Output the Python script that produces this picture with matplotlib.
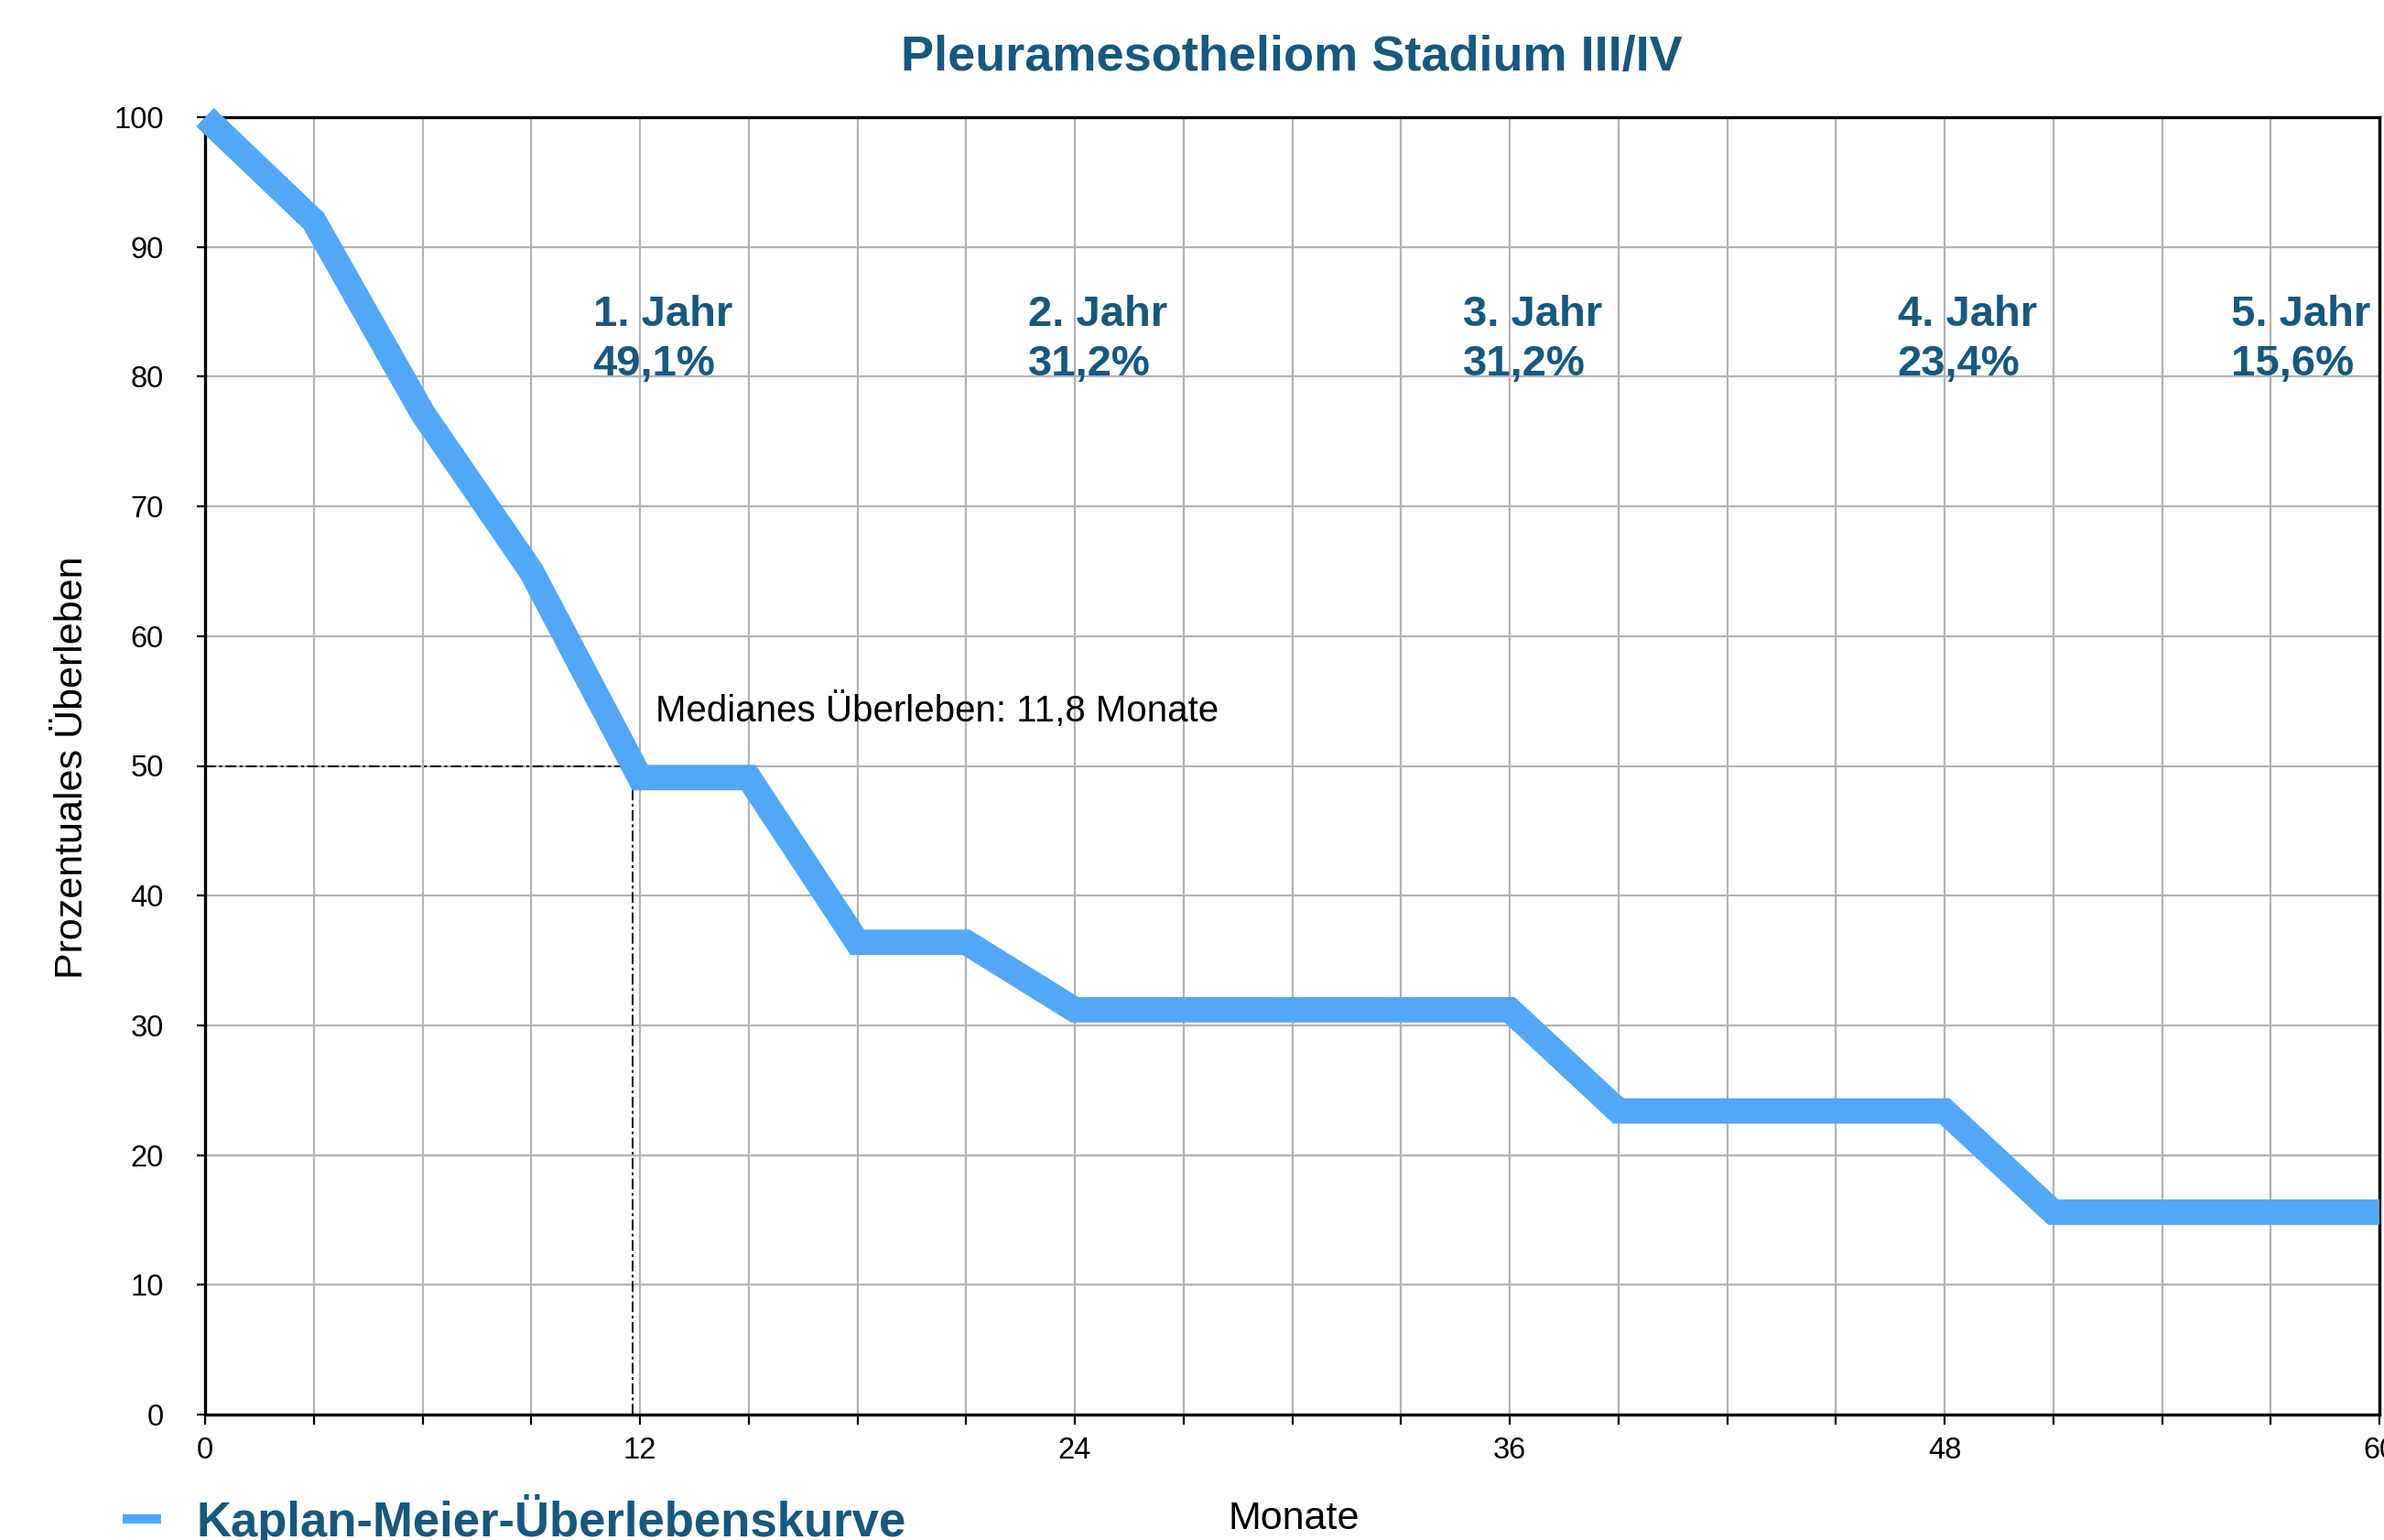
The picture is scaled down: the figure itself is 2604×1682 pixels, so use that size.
import numpy as np
import matplotlib
matplotlib.use("Agg")
import matplotlib.pyplot as plt
from matplotlib.lines import Line2D

plt.rcParams['font.family'] = ['Liberation Sans', 'DejaVu Sans']

# --- data ---
months = [0, 3, 6, 9, 12, 15, 18, 21, 24, 27, 30, 33, 36, 39, 42, 45, 48, 51, 54, 57, 60]
survival = [100, 92.0, 77.2, 65.0, 49.1, 49.1, 36.4, 36.4, 31.2, 31.2, 31.2, 31.2, 31.2,
            23.4, 23.4, 23.4, 23.4, 15.6, 15.6, 15.6, 15.6]
series_label = "Kaplan-Meier-Überlebenskurve"

year_labels = ["1. Jahr", "2. Jahr", "3. Jahr", "4. Jahr", "5. Jahr"]
year_rates = [49.1, 31.2, 31.2, 23.4, 15.6]
year_text_x = [10.7, 22.7, 34.7, 46.7, 55.9]   # left edge of the labels (months)

median_months = 11.8
median_level = 50

title = "Pleuramesotheliom Stadium III/IV"
xlabel = "Monate"
ylabel = "Prozentuales Überleben"

# colours
curve_col = "#52a7f8"
text_col = "#17587f"
grid_col = "#b3b3b3"

W, H = 2604, 1682
fig = plt.figure(figsize=(W / 100, H / 100), dpi=100)
ax = fig.add_axes([224 / W, 1 - 1545 / H, (2599 - 224) / W, (1545 - 128) / H])

ax.set_xlim(0, 60)
ax.set_ylim(0, 100)

# grid
ax.set_xticks(np.arange(0, 61, 3))
ax.set_xticklabels([str(m) if m % 12 == 0 else "" for m in range(0, 61, 3)])
ax.set_yticks(np.arange(0, 101, 10))
ax.grid(True, color=grid_col, lw=1.6, zorder=0)
ax.set_axisbelow(True)

for s in ax.spines.values():
    s.set_linewidth(2.4)
    s.set_color("black")

ax.tick_params(axis='x', length=8, width=1.6, pad=9, labelsize=23.5, colors='black')
ax.tick_params(axis='y', length=6.5, width=1.6, pad=26, labelsize=23.5, colors='black')

# median guides
ax.plot([0, median_months], [median_level, median_level], color='black', lw=1.4,
        dashes=(6, 2, 1.5, 2), zorder=2)
ax.plot([median_months, median_months], [0, median_level], color='black', lw=1.4,
        dashes=(6, 2, 1.5, 2), zorder=2)

# survival curve
ax.plot(months, survival, color=curve_col, lw=20, solid_joinstyle='miter',
        solid_capstyle='butt', clip_on=False, zorder=3, label=series_label)

# yearly survival annotations (y = baseline of the second line)
for xl, lab, r in zip(year_text_x, year_labels, year_rates):
    pct = ("%.1f" % r).replace(".", ",") + "%"
    ax.text(xl, 80.1, lab + "\n" + pct, ha='left', va='baseline', fontsize=34,
            fontweight='bold', color=text_col, linespacing=1.3, zorder=4)

ax.text(12.43, 53.4, "Medianes Überleben: " + ("%.1f" % median_months).replace(".", ",") + " Monate",
        ha='left', va='baseline', fontsize=29, color='black', zorder=4)

# title and axis labels
fig.text(1411 / W, 1 - 77 / H, title, ha='center', va='baseline', fontsize=39,
         fontweight='bold', color=text_col)
fig.text(1413 / W, 1 - 1670 / H, xlabel, ha='center', va='baseline', fontsize=31, color='black')
fig.text(90 / W, 1 - 838 / H, ylabel, rotation=90, rotation_mode='anchor', ha='center',
         va='baseline', fontsize=31, color='black')

# legend
handle = Line2D([], [], color=curve_col, lw=7.5, solid_capstyle='butt')
fig.legend([handle], [series_label], loc='lower left', bbox_to_anchor=(134 / W, -0.004),
           frameon=False, prop={'weight': 'bold', 'size': 38}, labelcolor=text_col,
           handlelength=0.8, handletextpad=0.72, borderpad=0, borderaxespad=0)

fig.savefig("out.png", dpi=100)
